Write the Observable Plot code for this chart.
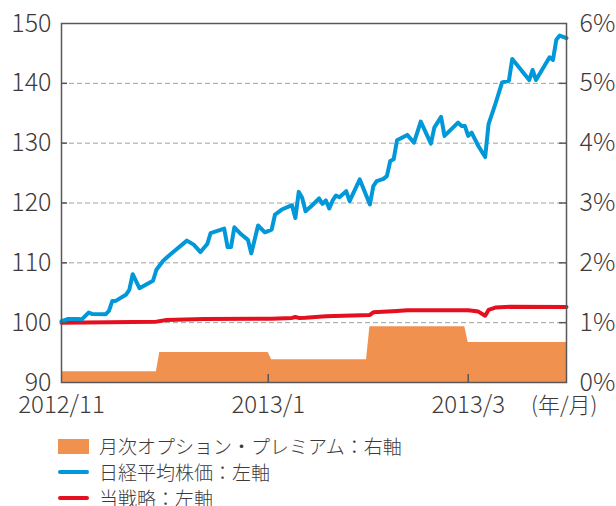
<!DOCTYPE html>
<html><head><meta charset="utf-8">
<script src="https://cdn.jsdelivr.net/npm/d3@7"></script>
<script src="https://cdn.jsdelivr.net/npm/@observablehq/plot@0.6"></script>
<style>
body{margin:0;background:#fff;font-family:"Noto Sans CJK JP","Noto Sans",sans-serif;color:#3e3a39;}
#chart{position:absolute;left:0;top:0;}
#legend{position:absolute;left:58px;top:433px;font-size:19px;font-weight:300;line-height:22px;}
.row{display:flex;align-items:center;height:26px;white-space:nowrap;}
.sw{width:31px;margin-right:10px;flex:none;}
</style></head><body><div id="chart"></div><div id="legend"></div>
<script>
const nikkeiDates = ["2012-11-01","2012-11-03","2012-11-06","2012-11-07","2012-11-09","2012-11-10","2012-11-14","2012-11-15","2012-11-16","2012-11-17","2012-11-20","2012-11-21","2012-11-22","2012-11-24","2012-11-28","2012-11-29",
"2012-12-01","2012-12-03","2012-12-08","2012-12-10","2012-12-12","2012-12-14","2012-12-15","2012-12-19","2012-12-20","2012-12-21","2012-12-22","2012-12-24","2012-12-26","2012-12-27","2012-12-29","2012-12-31",
"2013-01-02","2013-01-03","2013-01-05","2013-01-08","2013-01-09","2013-01-10","2013-01-11","2013-01-12","2013-01-14","2013-01-16","2013-01-17","2013-01-18","2013-01-19","2013-01-20","2013-01-21","2013-01-22","2013-01-24","2013-01-25","2013-01-28","2013-01-31",
"2013-02-01","2013-02-02","2013-02-04","2013-02-05","2013-02-06","2013-02-07","2013-02-08","2013-02-11","2013-02-13","2013-02-15","2013-02-18","2013-02-19","2013-02-21","2013-02-22","2013-02-26","2013-02-27","2013-02-28",
"2013-03-01","2013-03-02","2013-03-04","2013-03-06","2013-03-07","2013-03-09","2013-03-11","2013-03-13","2013-03-14","2013-03-19","2013-03-20","2013-03-21","2013-03-25","2013-03-26","2013-03-27","2013-03-28","2013-03-30"];
const nikkeiValues = [100.25,100.62,100.62,100.55,101.68,101.46,101.39,101.96,103.64,103.64,104.65,105.49,108.1,105.76,107.0,108.84,
110.35,111.36,113.71,113.04,111.8,113.14,114.98,115.72,112.63,112.63,115.94,114.77,113.84,111.58,116.24,115.1,
115.55,118.07,118.91,119.63,117.5,121.86,120.86,118.62,119.63,120.76,119.85,120.42,119.08,120.42,121.26,120.97,121.98,120.3,123.94,119.75,
122.82,123.66,124.04,124.5,127.01,127.3,130.49,131.38,130.08,133.61,129.92,132.6,134.4,131.21,133.44,132.89,132.89,
131.21,131.76,129.53,127.68,133.17,136.53,140.15,140.44,144.08,140.55,142.23,140.55,144.35,143.91,147.27,147.99,147.57];

const strategyDates = ["2012-11-01","2012-11-29","2012-12-02","2012-12-13","2013-01-02","2013-01-08","2013-01-09","2013-01-10","2013-01-12","2013-01-18","2013-01-31","2013-02-01","2013-02-08","2013-02-11","2013-03-01","2013-03-04","2013-03-06","2013-03-07","2013-03-09","2013-03-14","2013-03-30"];
const strategyValues = [100.0,100.17,100.45,100.62,100.67,100.8,100.95,100.8,100.84,101.06,101.29,101.73,101.96,102.06,102.06,101.85,101.17,102.13,102.52,102.68,102.63];

const premiumDates = ["2012-11-01","2012-11-29","2012-11-30","2013-01-01","2013-01-02","2013-01-30","2013-01-31","2013-02-28","2013-03-01","2013-03-30"];
const premiumValues = [0.18,0.18,0.50,0.50,0.38,0.38,0.93,0.93,0.67,0.67]; // %

const xTickDates = ["2012-11-01","2013-01-01","2013-03-01"];
const xTickLabels = ["2012/11","2013/1","2013/3"];
const xUnitLabel = "(年/月)";
const leftTicks = [90,100,110,120,130,140,150];
const rightTickLabels = ["0%","1%","2%","3%","4%","5%","6%"];
const legendLabels = ["月次オプション・プレミアム：右軸","日経平均株価：左軸","当戦略：左軸"];
const colors = {premium:"#f0914f", nikkei:"#0098d8", strategy:"#e5101f", axis:"#595757", grid:"#a0a0a0", text:"#3e3a39"};

const parse = d3.utcParse("%Y-%m-%d");
const nikkei = nikkeiDates.map((d,i)=>({date:parse(d), value:nikkeiValues[i]}));
const strategy = strategyDates.map((d,i)=>({date:parse(d), value:strategyValues[i]}));
const premium = premiumDates.map((d,i)=>({date:parse(d), value:premiumValues[i]}));
// right axis: 0%..6% maps onto left 90..150
const pctToY = p => leftTicks[0] + p * (leftTicks[1]-leftTicks[0]);
const xTicks = xTickDates.map(parse);
const xLabels = xTicks.map((d,i)=>({date:d, label:xTickLabels[i]}));
const rightLabelMap = new Map(leftTicks.map((t,i)=>[t, rightTickLabels[i]]));
const innerTicks = leftTicks.slice(1,-1);

const chart = Plot.plot({
  width: 616, height: 422,
  marginLeft: 61, marginRight: 50, marginTop: 23, marginBottom: 40,
  x: {type:"utc", domain:[parse("2012-11-01"), parse("2013-03-30")]},
  y: {domain:[leftTicks[0], leftTicks[leftTicks.length-1]]},
  style: {fontFamily:'"Noto Sans CJK JP","Noto Sans",sans-serif', fontSize:"24px", fontWeight:300, color:colors.text, background:"#fff", overflow:"visible"},
  marks: [
    Plot.areaY(premium, {x:"date", y1: () => pctToY(0), y2: d => pctToY(d.value), fill:colors.premium}),
    Plot.gridY({ticks: innerTicks, stroke:colors.grid, strokeOpacity:1, strokeWidth:1, strokeDasharray:"5,3"}),
    Plot.lineY(strategy, {x:"date", y:"value", stroke:colors.strategy, strokeWidth:4}),
    Plot.lineY(nikkei, {x:"date", y:"value", stroke:colors.nikkei, strokeWidth:4}),
    Plot.frame({stroke:colors.axis, strokeWidth:1.5}),
    Plot.axisY({ticks: innerTicks, tickSize:6, dx:6, tickFormat:()=>"", label:null, stroke:colors.axis, strokeWidth:1.5}),
    Plot.axisY({anchor:"right", ticks: innerTicks, tickSize:8, dx:-8, tickFormat:()=>"", label:null, stroke:colors.axis, strokeWidth:1.5}),
    Plot.axisY({ticks: leftTicks, tickSize:0, tickPadding:10, label:null, fontSize:25}),
    Plot.axisY({anchor:"right", ticks: leftTicks, tickSize:0, tickPadding:13, label:null, fontSize:25, tickFormat: d => rightLabelMap.get(d)}),
    Plot.axisX({ticks: xTicks.slice(1), tickSize:8, dy:-8, tickFormat:()=>"", label:null, stroke:colors.axis, strokeWidth:1.5}),
    Plot.text(xLabels, {x:"date", text:"label", frameAnchor:"bottom", dy:23, lineAnchor:"middle", fontSize:24}),
    Plot.text([xUnitLabel], {frameAnchor:"bottom-right", dx:31, dy:23, textAnchor:"end", lineAnchor:"middle", fontSize:22})
  ]
});
document.getElementById("chart").appendChild(chart);

const legend = document.getElementById("legend");
const swatches = [
  `<div class="sw" style="height:15px;background:${colors.premium}"></div>`,
  `<div class="sw" style="height:4px;border-radius:2px;background:${colors.nikkei}"></div>`,
  `<div class="sw" style="height:4px;border-radius:2px;background:${colors.strategy}"></div>`
];
legend.innerHTML = legendLabels.map((t,i)=>`<div class="row">${swatches[i]}<span>${t}</span></div>`).join("");
</script>
</body></html>
